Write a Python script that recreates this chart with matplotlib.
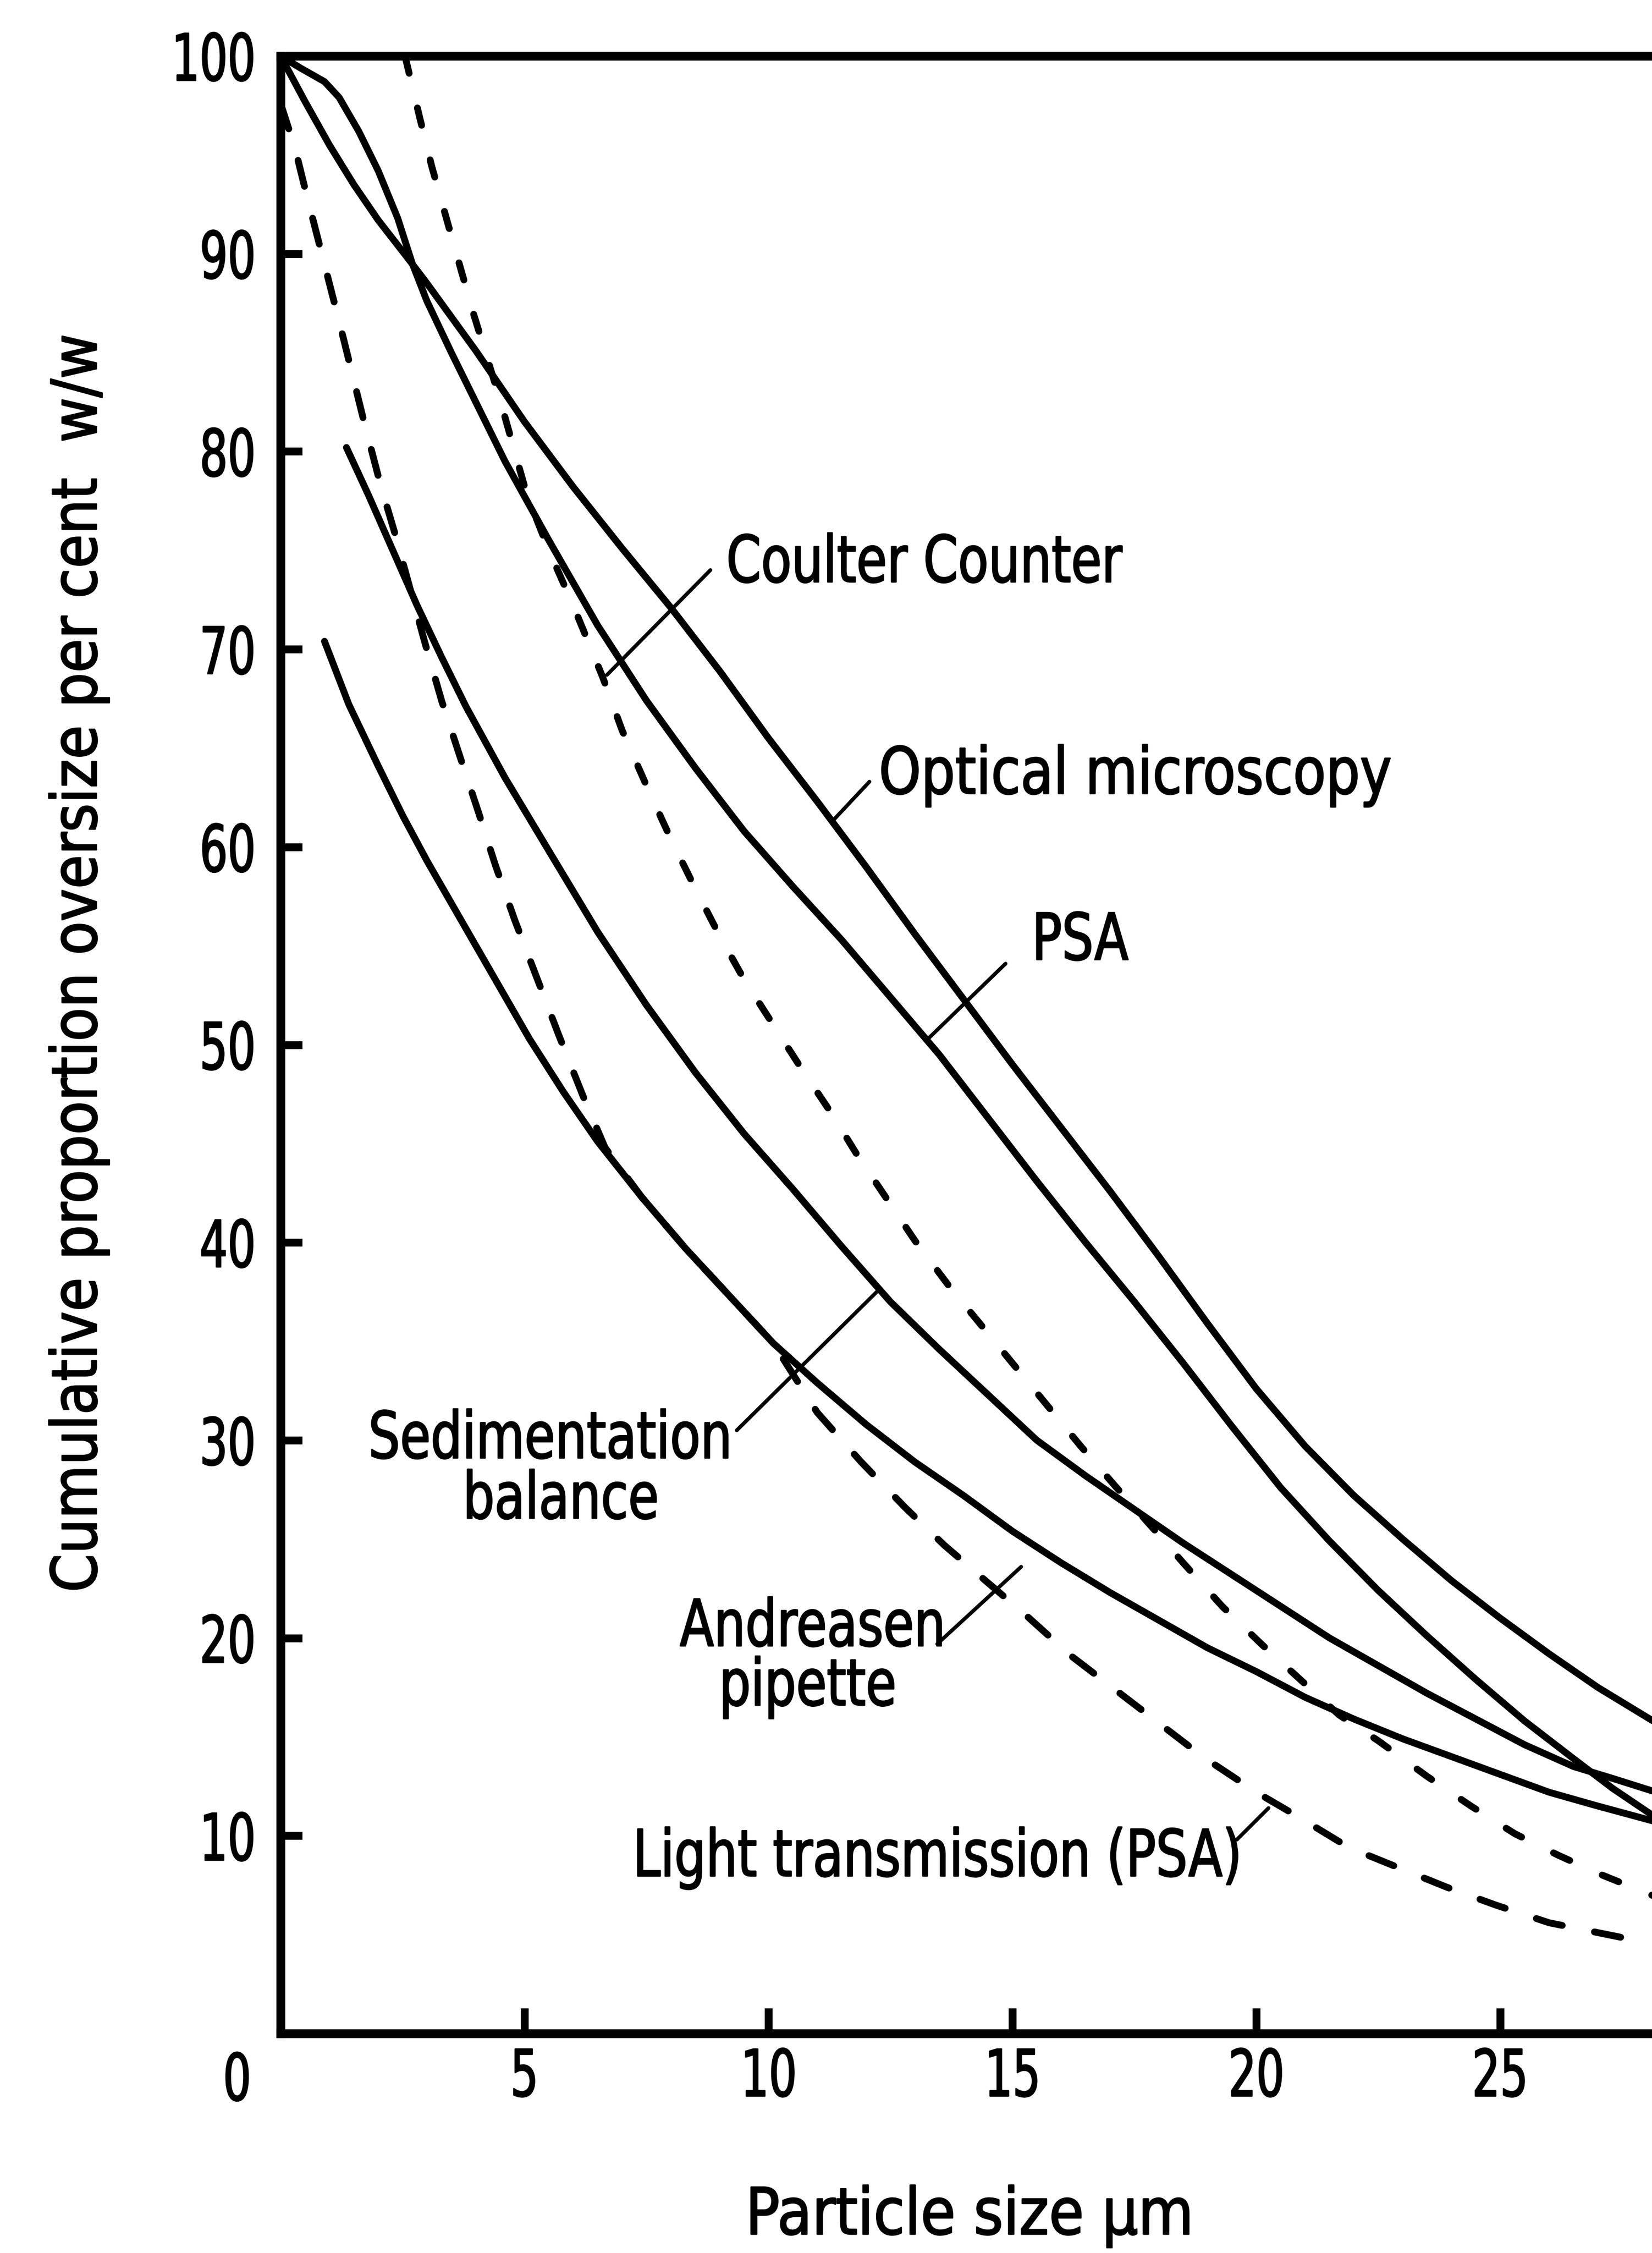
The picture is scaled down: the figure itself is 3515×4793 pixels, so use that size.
import numpy as np
import matplotlib
matplotlib.use('Agg')
import matplotlib.pyplot as plt
from matplotlib.patheffects import AbstractPathEffect
from matplotlib.transforms import Affine2D

plt.rcParams['font.family'] = ['DejaVu Sans']


class Narrow(AbstractPathEffect):
    """Squeeze the glyph outlines along the writing direction (condensed lettering),
    with a thin outline stroke to make the pen weight a little heavier."""

    def __init__(self, factor=0.77, anchor='left', stroke=0.7):
        super().__init__()
        self.factor = factor
        self.anchor = anchor
        self.stroke = stroke

    def draw_path(self, renderer, gc, tpath, affine, rgbFace=None):
        ext = tpath.get_extents()
        if self.anchor == 'left':
            x0 = ext.x0
        elif self.anchor == 'right':
            x0 = ext.x1
        else:
            x0 = 0.5 * (ext.x0 + ext.x1)
        squeeze = Affine2D().translate(-x0, 0).scale(self.factor, 1).translate(x0, 0)
        gc0 = renderer.new_gc()
        gc0.copy_properties(gc)
        gc0.set_linewidth(self.stroke)
        gc0.set_joinstyle('round')
        renderer.draw_path(gc0, tpath, squeeze + affine, rgbFace)
        gc0.restore()


# cumulative oversize (% w/w) against particle size (um), one pair per method
optical_x = [0.0, 0.5, 1.0, 1.5, 2.0, 2.6, 3.0, 3.5, 4.0, 4.5, 5.0, 6.0, 7.0, 8.0, 9.0, 10.0,
             11.0, 12.0, 13.0, 14.0, 15.0, 16.0, 17.0, 18.0, 19.0, 20.0, 21.0, 22.0, 23.0,
             24.0, 25.0, 26.0, 27.0, 28.2]
optical_y = [100.0, 97.7, 95.5, 93.5, 91.7, 89.8, 88.5, 86.8, 85.1, 83.3, 81.5, 78.2, 75.1,
             72.1, 68.9, 65.5, 62.3, 59.0, 55.6, 52.3, 49.0, 45.8, 42.6, 39.3, 35.9, 32.6,
             29.7, 27.2, 25.0, 22.9, 21.0, 19.2, 17.5, 15.7]

psa_x = [0.0, 0.4, 0.9, 1.2, 1.6, 2.0, 2.4, 2.7, 3.0, 3.5, 4.0, 4.6, 5.5, 6.5, 7.5, 8.5, 9.5,
         10.5, 11.5, 12.5, 13.5, 14.5, 15.5, 16.5, 17.5, 18.5, 19.5, 20.5, 21.5, 22.5, 23.5,
         24.5, 25.5, 26.5, 27.3, 28.2]
psa_y = [100.0, 99.4, 98.7, 97.9, 96.2, 94.2, 91.8, 89.5, 87.6, 85.0, 82.5, 79.5, 75.5, 71.2,
         67.4, 64.0, 60.8, 58.0, 55.3, 52.4, 49.5, 46.3, 43.1, 40.0, 37.0, 33.9, 30.7, 27.6,
         24.9, 22.4, 20.1, 17.9, 15.8, 13.9, 12.4, 10.9]

sed_x = [1.35, 1.8, 2.3, 2.8, 3.3, 3.8, 4.6, 5.5, 6.5, 7.5, 8.5, 9.5, 10.5, 11.5, 12.5, 13.5,
         14.5, 15.5, 16.5, 17.5, 18.5, 19.5, 20.5, 21.5, 22.5, 23.5, 24.5, 25.5, 26.5, 27.3, 28.2]
sed_y = [80.2, 77.8, 75.0, 72.2, 69.6, 67.1, 63.5, 59.8, 55.7, 52.0, 48.6, 45.5, 42.7, 39.8,
         37.0, 34.6, 32.3, 30.0, 28.2, 26.5, 24.8, 23.2, 21.6, 20.0, 18.6, 17.2, 15.9, 14.6,
         13.5, 12.9, 12.2]

andreasen_x = [0.9, 1.4, 2.0, 2.5, 3.0, 3.7, 4.4, 5.1, 5.8, 6.5, 7.4, 8.3, 9.2, 10.1, 11.0,
               12.0, 13.0, 14.0, 15.0, 16.0, 17.0, 18.0, 19.0, 20.0, 21.0, 22.0, 23.0, 24.0,
               25.0, 26.0, 27.0, 28.2]
andreasen_y = [70.4, 67.2, 64.1, 61.6, 59.3, 56.3, 53.3, 50.3, 47.6, 45.1, 42.3, 39.7, 37.3,
               34.9, 32.9, 30.8, 28.9, 27.2, 25.4, 23.8, 22.3, 20.9, 19.5, 18.3, 17.0, 15.9,
               14.9, 14.0, 13.1, 12.2, 11.5, 10.7]

coulter_x = [2.55, 2.85, 3.1, 3.5, 3.95, 4.5, 5.05, 5.5, 6.0, 6.6, 7.0, 7.5, 8.0, 8.5, 9.0,
             9.5, 10.1, 10.7, 11.3, 11.8, 12.4, 13.0, 13.7, 14.4, 15.0, 15.7, 16.4, 17.1,
             17.9, 18.5, 19.3, 20.1, 20.9, 21.7, 22.5, 23.5, 24.4, 25.3, 26.2, 27.1, 28.2]
coulter_y = [100.0, 96.9, 94.4, 90.9, 87.0, 82.6, 77.8, 75.0, 72.2, 68.6, 65.9, 63.1, 60.4,
             57.9, 55.5, 53.3, 51.0, 48.7, 46.5, 44.5, 42.3, 40.1, 37.8, 35.7, 33.9, 31.8,
             29.7, 27.7, 25.5, 23.8, 21.6, 19.7, 17.9, 16.1, 14.8, 13.0, 11.5, 10.1, 9.0,
             8.0, 6.9]

light_x = [0.0, 0.3, 0.5, 0.75, 1.0, 1.3, 1.7, 2.05, 2.35, 2.95, 3.3, 3.7, 4.05, 4.4, 4.8,
           5.25, 5.7, 6.2, 6.65, 7.4, 8.3, 9.2, 10.1, 11.0, 11.9, 12.8, 13.6, 14.4, 15.3,
           16.2, 17.1, 18.0, 18.9, 20.0, 20.9, 21.9, 22.9, 23.9, 24.9, 26.0, 27.0, 28.2]
light_y = [97.6, 95.3, 93.3, 90.9, 88.5, 85.6, 81.6, 78.3, 75.8, 70.4, 67.4, 64.4, 61.8, 59.1,
           56.3, 53.4, 50.5, 47.4, 44.8, 42.3, 39.7, 37.3, 34.9, 31.4, 28.9, 26.6, 24.7,
           23.0, 21.1, 19.1, 17.4, 15.7, 14.0, 12.2, 10.9, 9.4, 8.4, 7.4, 6.5, 5.6, 5.1, 4.5]

x_ticks = [5, 10, 15, 20, 25]
y_ticks = [10, 20, 30, 40, 50, 60, 70, 80, 90, 100]

W, H = 3515, 4793
fig = plt.figure(figsize=(W / 300, H / 300), dpi=300)
ax = fig.add_axes([597 / W, 1 - 4326 / H, 1 - 597 / W, (4326 - 119) / H])
ax.set_xlim(0, 28.11)
ax.set_ylim(0, 100)

lw = 3.5
solid = dict(color='black', lw=lw, solid_capstyle='round', solid_joinstyle='round')
ax.plot(optical_x, optical_y, **solid)
ax.plot(psa_x, psa_y, **solid)
ax.plot(sed_x, sed_y, **solid)
ax.plot(andreasen_x, andreasen_y, **solid)
ax.plot(coulter_x, coulter_y, color='black', lw=lw, dashes=(2.6, 5.2),
        dash_capstyle='round')
ax.plot(light_x, light_y, color='black', lw=lw, dashes=(3.9, 4.8),
        dash_capstyle='round')

# frame: left, bottom and the 100 % line on top
for side in ['left', 'bottom', 'top']:
    ax.spines[side].set_linewidth(4.5)
ax.spines['right'].set_visible(False)

ax.set_xticks(x_ticks, labels=[str(v) for v in x_ticks])
ax.set_yticks(y_ticks, labels=[str(v) for v in y_ticks])
ax.tick_params(axis='y', direction='in', length=11, width=4, labelsize=33, pad=12)
ax.tick_params(axis='x', direction='in', length=13, width=4, labelsize=33, pad=7)
ax.tick_params(top=False, right=False)
for lbl in ax.get_xticklabels():
    lbl.set_path_effects([Narrow(0.68, 'center')])
for lbl in ax.get_yticklabels():
    lbl.set_path_effects([Narrow(0.68, 'right')])
ax.text(-0.89, -0.9, '0', fontsize=33, ha='center', va='top', clip_on=False,
        path_effects=[Narrow(0.68, 'center')])

# curve labels with leader strokes
fs = 33
left = [Narrow(0.77, 'left')]
mid = [Narrow(0.77, 'center')]
lead = dict(color='black', lw=1.9, solid_capstyle='round', clip_on=False)

ax.text(9.12, 73.4, 'Coulter Counter', fontsize=fs, va='baseline', path_effects=left)
ax.plot([8.81, 6.69], [74.0, 68.7], **lead)

ax.text(12.25, 62.7, 'Optical microscopy', fontsize=fs, va='baseline',
        path_effects=[Narrow(0.83, 'left')])
ax.plot([12.07, 11.29], [63.3, 61.25], **lead)

ax.text(15.37, 54.3, 'PSA', fontsize=fs, va='baseline', path_effects=left)
ax.plot([14.86, 13.23], [54.1, 50.2], **lead)

ax.text(5.53, 29.1, 'Sedimentation', fontsize=fs, ha='center', va='baseline',
        path_effects=mid)
ax.text(5.74, 26.05, 'balance', fontsize=fs, ha='center', va='baseline', path_effects=mid)
ax.plot([9.35, 12.26], [30.5, 37.6], **lead)

ax.text(10.92, 19.6, 'Andreasen', fontsize=fs, ha='center', va='baseline', path_effects=mid)
ax.text(10.8, 16.6, 'pipette', fontsize=fs, ha='center', va='baseline', path_effects=mid)
ax.plot([13.46, 15.18], [19.7, 23.6], **lead)

ax.text(7.19, 7.96, 'Light transmission (PSA)', fontsize=fs, va='baseline',
        path_effects=left)
ax.plot([19.6, 20.25], [9.8, 11.4], **lead)

fig.text(168 / W, 1 - 2048 / H, 'Cumulative proportion oversize per cent  w/w',
         fontsize=32, rotation=90, ha='center', va='center',
         path_effects=[Narrow(0.88, 'center')])
fig.text(2063 / W, 1 - 4753 / H, 'Particle size \u03bcm', fontsize=33,
         ha='center', va='baseline', path_effects=[Narrow(0.88, 'center')])

fig.savefig('out.png', dpi=300, facecolor='white')
